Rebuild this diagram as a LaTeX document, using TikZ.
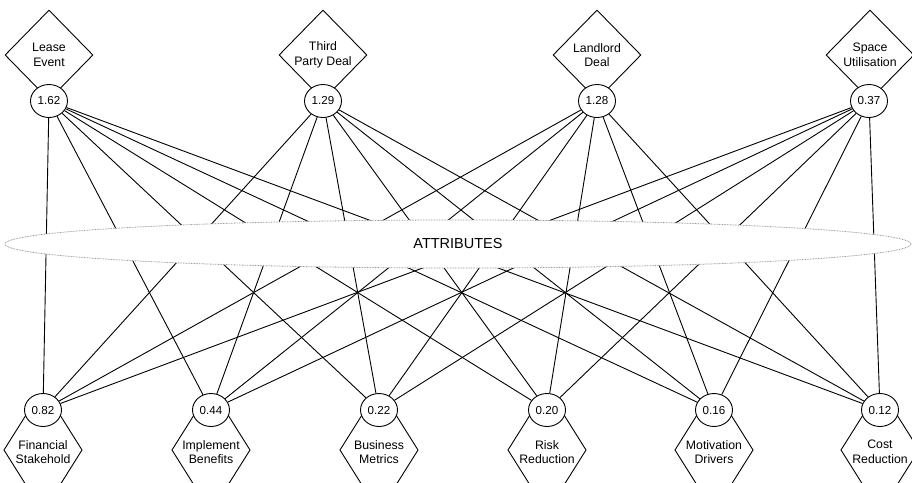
\documentclass[tikz,border=0pt]{standalone}
\usepackage{fontspec}
\setmainfont{Liberation Sans}
\usetikzlibrary{shapes.geometric}
\begin{document}
\begin{tikzpicture}[x=1pt,y=-1pt,
  every node/.style={font=\fontsize{12.3}{14.5}\selectfont, text=black},
  decision/.style={shape=diamond, draw, line width=0.9pt, fill=white, inner sep=0pt,
     minimum width=88pt, minimum height=90pt, align=center},
  score/.style={shape=ellipse, draw, line width=0.9pt, fill=white, inner sep=0pt,
     minimum width=37pt, minimum height=33pt, font=\fontsize{11.6}{13}\selectfont},
  crit/.style={inner sep=0pt, align=center},
  hexa/.style={draw, line width=0.9pt, fill=white},
  link/.style={line width=0.9pt},
  attrib/.style={shape=ellipse, draw=gray!80, fill=white, line width=0.8pt,
     dash pattern=on 0.8pt off 0.8pt, minimum width=906pt, minimum height=48pt}
]
\useasboundingbox (0,0) rectangle (912,482);

% top decision diamonds
\node[decision] (d1) at (49,55) {Lease\\Event};
\node[decision] (d2) at (323,55) {Third\\Party Deal};
\node[decision] (d3) at (597,55) {Landlord\\Deal};
\node[decision] (d4) at (870,55) {Space\\Utilisation};

% bottom hexagons
\foreach \n/\x/\t in {1/43/{Financial\\Stakehold},2/211/{Implement\\Benefits},3/379/{Business\\Metrics},4/547/{Risk\\Reduction},5/714/{Motivation\\Drivers},6/880/{Cost\\Reduction}}{
  \draw[hexa] (\x,450) ++(-39,0) -- ++(22,-35) -- ++(34,0) -- ++(22,35) -- ++(-22,35) -- ++(-34,0) -- cycle;
  \node[crit] (h\n) at (\x,452) {\t};
}

% score circles
\node[score] (t1) at (49,101) {1.62};
\node[score] (t2) at (323,101) {1.29};
\node[score] (t3) at (597,101) {1.28};
\node[score] (t4) at (869,101) {0.37};

\node[score] (b1) at (43,410) {0.82};
\node[score] (b2) at (211,410) {0.44};
\node[score] (b3) at (379,410) {0.22};
\node[score] (b4) at (547,410) {0.20};
\node[score] (b5) at (714,410) {0.16};
\node[score] (b6) at (880,410) {0.12};

% connectors
\foreach \i in {1,2,3,4}{
  \foreach \j in {1,2,3,4,5,6}{
    \draw[link] (t\i) -- (b\j);
  }
}

% attributes ellipse
\node[attrib, font=\fontsize{14.5}{16}\selectfont] (attr) at (458,244) {ATTRIBUTES};
\end{tikzpicture}
\end{document}
